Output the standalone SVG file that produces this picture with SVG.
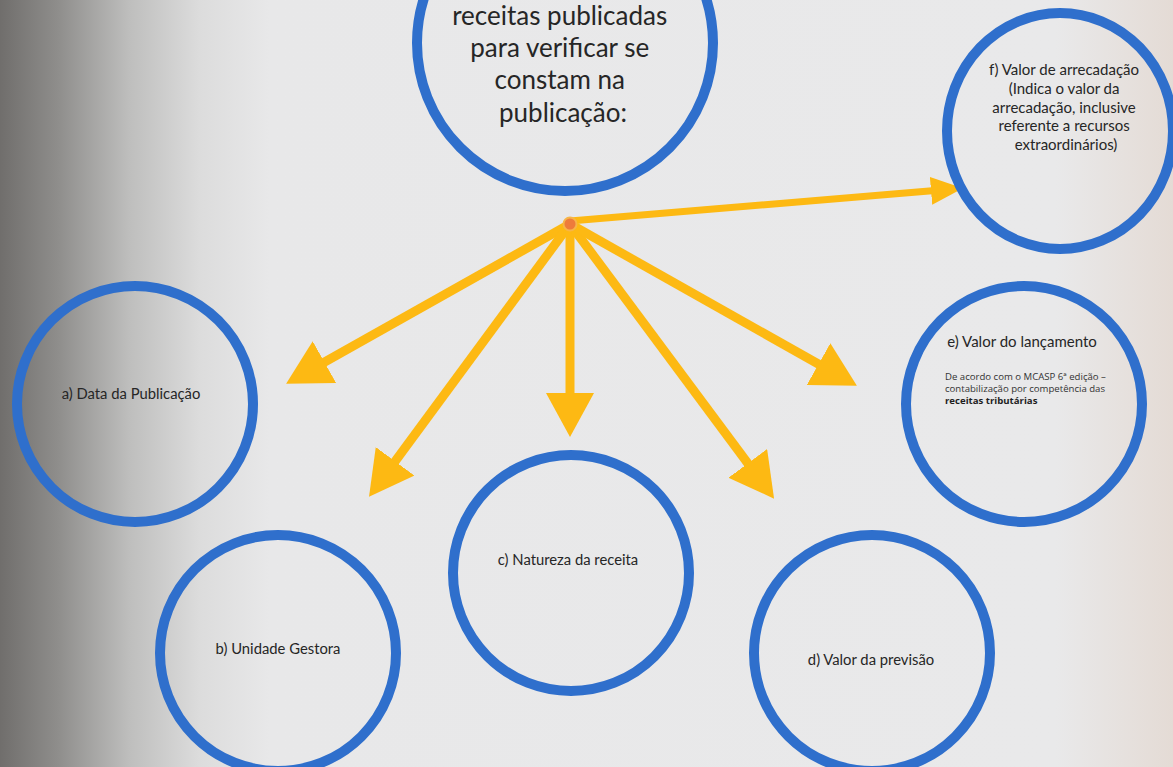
<svg xmlns="http://www.w3.org/2000/svg" width="1173" height="767" viewBox="0 0 1173 767">
  <defs>
    <linearGradient id="bg" x1="0" y1="0" x2="1173" y2="0" gradientUnits="userSpaceOnUse">
      <stop offset="0" stop-color="#706e6c"/>
      <stop offset="0.05" stop-color="#8f8e8c"/>
      <stop offset="0.11" stop-color="#bebebd"/>
      <stop offset="0.17" stop-color="#dcdcdc"/>
      <stop offset="0.23" stop-color="#e8e8e9"/>
      <stop offset="0.90" stop-color="#e9e9ea"/>
      <stop offset="1" stop-color="#e4dbd5"/>
    </linearGradient>
    <marker id="head" markerUnits="userSpaceOnUse" markerWidth="44" markerHeight="48" viewBox="0 0 44 48" refX="12" refY="24" orient="auto">
      <path d="M0,0 L44,24 L0,48 z" fill="#fdb913"/>
    </marker>
    <marker id="head-sm" markerUnits="userSpaceOnUse" markerWidth="32" markerHeight="28" viewBox="0 0 32 28" refX="10" refY="14" orient="auto">
      <path d="M0,0 L32,14 L0,28 z" fill="#fdb913"/>
    </marker>
  </defs>
  <style>
    .ring { fill: none; stroke: #2f6fcc; stroke-width: 10; }
    .arrow { stroke: #fdb913; stroke-width: 9; fill: none; marker-end: url(#head); }
    .label { font-family: Lato, "Open Sans", "Liberation Sans", sans-serif; fill: #262626; text-anchor: middle; }
    .note { font-family: "Open Sans", "Liberation Sans", sans-serif; fill: #333; font-size: 9.6px; }
  </style>

  <rect x="0" y="0" width="1173" height="767" fill="url(#bg)"/>

  <!-- connectors radiating from the hub -->
  <g id="connectors">
    <line class="arrow" x1="570" y1="224" x2="314" y2="368"/>
    <line class="arrow" x1="570" y1="224" x2="388" y2="471"/>
    <line class="arrow" x1="570" y1="224" x2="570" y2="405"/>
    <line class="arrow" x1="570" y1="224" x2="755" y2="473"/>
    <line class="arrow" x1="570" y1="224" x2="829" y2="370"/>
    <line x1="570" y1="221" x2="941" y2="190" stroke="#fdb913" stroke-width="7" marker-end="url(#head-sm)"/>
    <circle cx="570" cy="224" r="6.5" fill="#ee7b3b" stroke="#f7b548" stroke-width="2"/>
  </g>

  <g id="node-main">
    <circle class="ring" cx="565" cy="43" r="148"/>
    <text class="label" font-size="26">
      <tspan x="563" y="25">receitas publicadas</tspan>
      <tspan x="563" y="57">para verificar se</tspan>
      <tspan x="563" y="89">constam na</tspan>
      <tspan x="563" y="122">publicação:</tspan>
    </text>
  </g>

  <g id="node-f">
    <ellipse class="ring" cx="1060" cy="131" rx="113" ry="118"/>
    <text class="label" font-size="15">
      <tspan x="1066" y="75">f) Valor de arrecadação</tspan>
      <tspan x="1066" y="94">(Indica o valor da</tspan>
      <tspan x="1066" y="113">arrecadação, inclusive</tspan>
      <tspan x="1066" y="131">referente a recursos</tspan>
      <tspan x="1066" y="150">extraordinários)</tspan>
    </text>
  </g>

  <g id="node-e">
    <circle class="ring" cx="1024" cy="404" r="118"/>
    <text class="label" font-size="15" x="1022" y="347">e) Valor do lançamento</text>
    <text class="note">
      <tspan x="945" y="380">De acordo com o MCASP 6ª edição –</tspan>
      <tspan x="945" y="392">contabilização por competência das</tspan>
      <tspan x="945" y="404" font-weight="bold" fill="#1e1e1e">receitas tributárias</tspan>
    </text>
  </g>

  <g id="node-a">
    <circle class="ring" cx="135" cy="404" r="118"/>
    <text class="label" font-size="14.8" x="131" y="399">a) Data da Publicação</text>
  </g>

  <g id="node-b">
    <circle class="ring" cx="278" cy="653" r="118"/>
    <text class="label" font-size="14.8" x="278" y="654">b) Unidade Gestora</text>
  </g>

  <g id="node-c">
    <circle class="ring" cx="571" cy="573" r="118"/>
    <text class="label" font-size="14.8" x="568" y="565">c) Natureza da receita</text>
  </g>

  <g id="node-d">
    <circle class="ring" cx="872" cy="653" r="118"/>
    <text class="label" font-size="14.8" x="871" y="665">d) Valor da previsão</text>
  </g>
</svg>
